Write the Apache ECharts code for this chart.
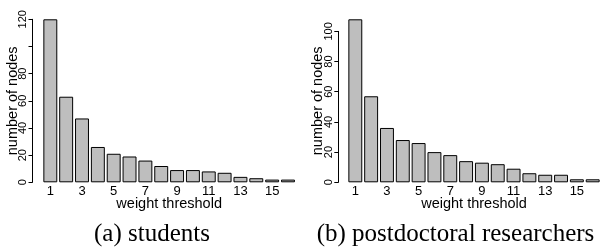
<!DOCTYPE html>
<html>
<head>
<meta charset="utf-8">
<script src="https://cdn.jsdelivr.net/npm/echarts@6/dist/echarts.min.js"></script>
<style>
html, body { margin: 0; padding: 0; background: #fff; }
#chart { width: 603px; height: 251px; }
</style>
</head>
<body>
<div id="chart"></div>
<script>
// data
var thresholds = ['1','2','3','4','5','6','7','8','9','10','11','12','13','14','15','16'];
var studentNodes = [120, 63, 47, 26, 21, 19, 16, 12, 9, 9, 8, 7, 4, 3, 2, 2];
var postdocNodes = [108, 57, 36, 28, 26, 20, 18, 14, 13, 12, 9, 6, 5, 5, 2, 2];
var studentTickMax = 120;
var postdocTickMax = 100;
var hiddenTickLabels = { student: [100], postdoc: [] };
var captions = ['(a) students', '(b) postdoctoral researchers'];

var myChart = echarts.init(document.getElementById('chart'));

var plotTop = 19.3, plotH = 163;
var sans = '"Liberation Sans", Arial, sans-serif';

// one panel = plot grid (bars) + axis grid (y axis line only up to last tick)
function panel(idx, plotLeft, plotW, axisX, values, tickMax, hidden) {
    var dataMax = Math.max.apply(null, values);
    var axisH = plotH * tickMax / dataMax;
    var grids = [
        { left: plotLeft, top: plotTop, width: plotW, height: plotH },
        { left: axisX, top: plotTop + plotH - axisH, width: 10, height: axisH }
    ];
    var xAxes = [
        {
            gridIndex: idx * 2, type: 'category', data: thresholds,
            axisLine: { show: false }, axisTick: { show: false },
            axisLabel: { interval: 1, margin: 3, fontSize: 13, color: '#000', fontFamily: sans },
            name: 'weight threshold', nameLocation: 'middle', nameGap: 14, nameMoveOverlap: false,
            nameTextStyle: { fontSize: 14.5, color: '#000', fontFamily: sans }
        },
        { gridIndex: idx * 2 + 1, type: 'value', show: false }
    ];
    var yAxes = [
        {
            gridIndex: idx * 2, type: 'value', min: 0, max: dataMax,
            axisLine: { show: false }, axisTick: { show: false },
            axisLabel: { show: false }, splitLine: { show: false },
            name: 'number of nodes', nameLocation: 'middle', nameRotate: 90, nameGap: 22,
            nameMoveOverlap: false,
            nameTextStyle: { fontSize: 14.5, color: '#000', fontFamily: sans }
        },
        {
            gridIndex: idx * 2 + 1, type: 'value', min: 0, max: tickMax, interval: 20,
            axisLine: { show: true, lineStyle: { color: '#000', width: 1 } },
            axisTick: { show: true, length: 4, lineStyle: { color: '#000' } },
            splitLine: { show: false },
            axisLabel: {
                rotate: 90, margin: 4, fontSize: 11, color: '#000', fontFamily: sans,
                formatter: function (v) { return hidden.indexOf(v) >= 0 ? '' : String(v); }
            }
        }
    ];
    var series = {
        type: 'bar', xAxisIndex: idx * 2, yAxisIndex: idx * 2, data: values,
        barCategoryGap: '12%',
        itemStyle: { color: '#bebebe', borderColor: '#000', borderWidth: 1 }
    };
    return { grids: grids, xAxes: xAxes, yAxes: yAxes, series: series };
}

var left = panel(0, 42.4, 253.5, 32.5, studentNodes, studentTickMax, hiddenTickLabels.student);
var right = panel(1, 347.4, 253.2, 338.3, postdocNodes, postdocTickMax, hiddenTickLabels.postdoc);

var option = {
    animation: false,
    backgroundColor: '#fff',
    grid: left.grids.concat(right.grids),
    xAxis: left.xAxes.concat(right.xAxes),
    yAxis: left.yAxes.concat(right.yAxes),
    series: [left.series, right.series],
    graphic: [
        { type: 'text', x: 152, y: 234.5,
          style: { text: captions[0], font: '25px "Liberation Serif", serif', fill: '#000', textAlign: 'center', textVerticalAlign: 'middle' } },
        { type: 'text', x: 455.5, y: 234.5,
          style: { text: captions[1], font: '25px "Liberation Serif", serif', fill: '#000', textAlign: 'center', textVerticalAlign: 'middle' } }
    ]
};

myChart.setOption(option);
</script>
</body>
</html>
